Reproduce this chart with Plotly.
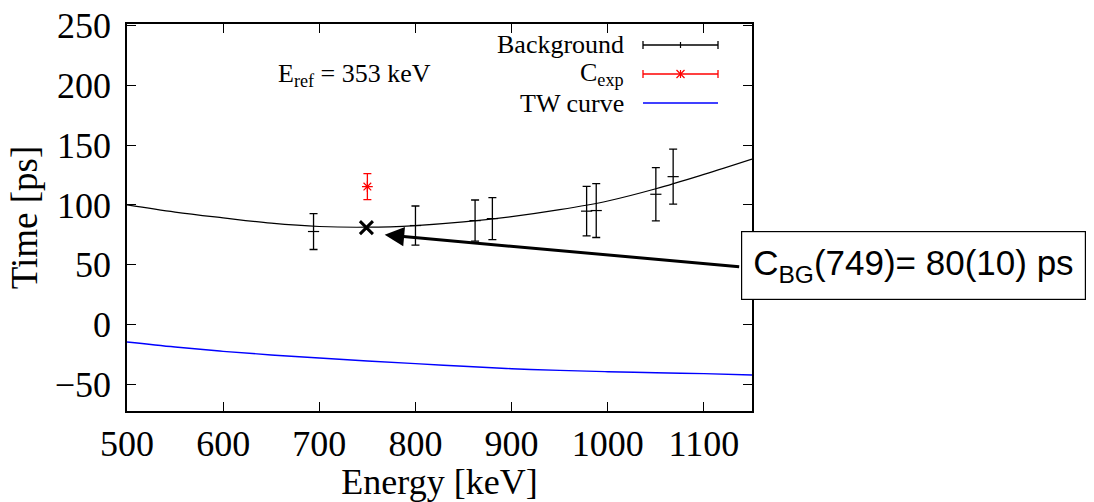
import plotly.graph_objects as go

# ---- data ----
bg_energy = [694, 800, 862, 880, 978, 988, 1050, 1068]
bg_time = [77.8, 82.8, 86.9, 88.6, 94.8, 95.3, 108.9, 123.6]
bg_err = [15.0, 16.3, 17.2, 17.5, 20.7, 22.5, 22.2, 23.0]

cexp_energy = [750]
cexp_time = [115.3]
cexp_err = [10.8]

cbg_energy = [749]
cbg_time = [81]

fit_energy = [500, 550, 600, 650, 700, 750, 800, 850, 900, 950, 1000, 1050, 1100, 1150]
fit_time = [100, 94, 89.2, 84.8, 82.0, 81.4, 82.8, 85.8, 90.2, 96.0, 103.3, 113.5, 125.5, 138.3]

tw_energy = [500, 550, 600, 650, 700, 750, 800, 850, 900, 950, 1000, 1050, 1100, 1150]
tw_time = [-14.4, -18.6, -22.2, -25.2, -27.8, -30.3, -32.5, -34.7, -36.7, -38.1, -39.2, -40.1, -40.8, -41.9]

x_range = [500, 1150]
y_range = [-72, 251]
x_ticks = [500, 600, 700, 800, 900, 1000, 1100]
y_ticks = [-50, 0, 50, 100, 150, 200, 250]

legend_labels = ["Background", "C<sub>exp</sub>", "TW curve"]
eref_text = "E<sub>ref</sub> = 353 keV"
cbg_text = "C<sub>BG</sub>(749)= 80(10) ps"

SERIF = "Liberation Serif"
W, H = 1094, 502
L, R, T, B = 127, 342, 24, 91
PW, PH = W - L - R, H - T - B

def px(x):
    return (x - L) / PW

def py(y):
    return 1 - (y - T) / PH

fig = go.Figure()

fig.add_trace(go.Scatter(x=tw_energy, y=tw_time, mode="lines", line=dict(color="#0000ff", width=1.4, shape="spline"), showlegend=False))
fig.add_trace(go.Scatter(x=fit_energy, y=fit_time, mode="lines", line=dict(color="black", width=1.2, shape="spline"), showlegend=False))
fig.add_trace(go.Scatter(
    x=bg_energy, y=bg_time, mode="markers",
    marker=dict(symbol="line-ew", size=8, color="black", line=dict(color="black", width=1.2)),
    error_y=dict(type="data", array=bg_err, color="black", thickness=1.3, width=4),
    showlegend=False))
fig.add_trace(go.Scatter(
    x=cexp_energy, y=cexp_time, mode="markers",
    marker=dict(symbol="asterisk-open", size=9, color="red", line=dict(color="red", width=1.2)),
    error_y=dict(type="data", array=cexp_err, color="red", thickness=1.3, width=4),
    showlegend=False))
fig.add_trace(go.Scatter(
    x=cbg_energy, y=cbg_time, mode="markers",
    marker=dict(symbol="x-thin", size=13, color="black", line=dict(color="black", width=3)),
    showlegend=False))

shapes = []
annotations = []

# manual legend (key on the right of the text, as in the reference)
leg_y = [45, 74, 103]
leg_colors = ["black", "red", "#0000ff"]
x0, x1, xm = 643, 718, 680.5
for i, (lab, yy, col) in enumerate(zip(legend_labels, leg_y, leg_colors)):
    annotations.append(dict(text=lab, x=px(626), y=py(yy), xref="paper", yref="paper",
                            xanchor="right", yanchor="middle", showarrow=False,
                            font=dict(family=SERIF, size=26, color="black")))
    shapes.append(dict(type="line", xref="paper", yref="paper", x0=px(x0), x1=px(x1), y0=py(yy), y1=py(yy),
                       line=dict(color=col, width=1.3)))
    if i < 2:
        for xc in (x0, x1):
            shapes.append(dict(type="line", xref="paper", yref="paper", x0=px(xc), x1=px(xc),
                               y0=py(yy - 4), y1=py(yy + 4), line=dict(color=col, width=1.3)))
    if i == 0:
        shapes.append(dict(type="line", xref="paper", yref="paper", x0=px(xm), x1=px(xm),
                           y0=py(yy - 3), y1=py(yy + 3), line=dict(color=col, width=1.2)))
    if i == 1:
        for dx, dy in ((4, 4), (4, -4), (0, 4)):
            shapes.append(dict(type="line", xref="paper", yref="paper", x0=px(xm - dx), x1=px(xm + dx),
                               y0=py(yy - dy), y1=py(yy + dy), line=dict(color=col, width=1.2)))

annotations.append(dict(text=eref_text, x=px(354), y=py(75), xref="paper", yref="paper",
                        xanchor="center", yanchor="middle", showarrow=False,
                        font=dict(family=SERIF, size=26, color="black")))

# arrow
annotations.append(dict(text="", x=768, y=75, xref="x", yref="y", ax=356, ay=32,
                        axref="pixel", ayref="pixel", showarrow=True, arrowhead=2,
                        arrowsize=1.3, arrowwidth=3, arrowcolor="black"))
# boxed label
annotations.append(dict(text=cbg_text, x=px(741), y=py(231), xref="paper", yref="paper",
                        xanchor="left", yanchor="top", showarrow=False,
                        bordercolor="black", borderwidth=1.2, borderpad=11, bgcolor="white",
                        font=dict(family="Liberation Sans", size=35, color="black")))

axis_common = dict(showline=True, linecolor="black", linewidth=1.5, mirror="allticks",
                   ticks="inside", ticklen=9, tickwidth=1.3, tickcolor="black",
                   showgrid=False, zeroline=False, automargin=False,
                   tickfont=dict(family=SERIF, size=36, color="black"))

fig.update_layout(
    width=W, height=H,
    margin=dict(l=L, r=R, t=T, b=B),
    paper_bgcolor="white", plot_bgcolor="white",
    xaxis=dict(range=x_range, tickvals=x_ticks, ticklabelstandoff=0,
               title=dict(text="Energy [keV]", font=dict(family=SERIF, size=36, color="black"), standoff=0),
               **axis_common),
    yaxis=dict(range=y_range, tickvals=y_ticks, ticklabelstandoff=7,
               title=dict(text="Time [ps]", font=dict(family=SERIF, size=37, color="black"), standoff=6),
               **axis_common),
    shapes=shapes, annotations=annotations, showlegend=False,
)

fig.write_html("out.html")
